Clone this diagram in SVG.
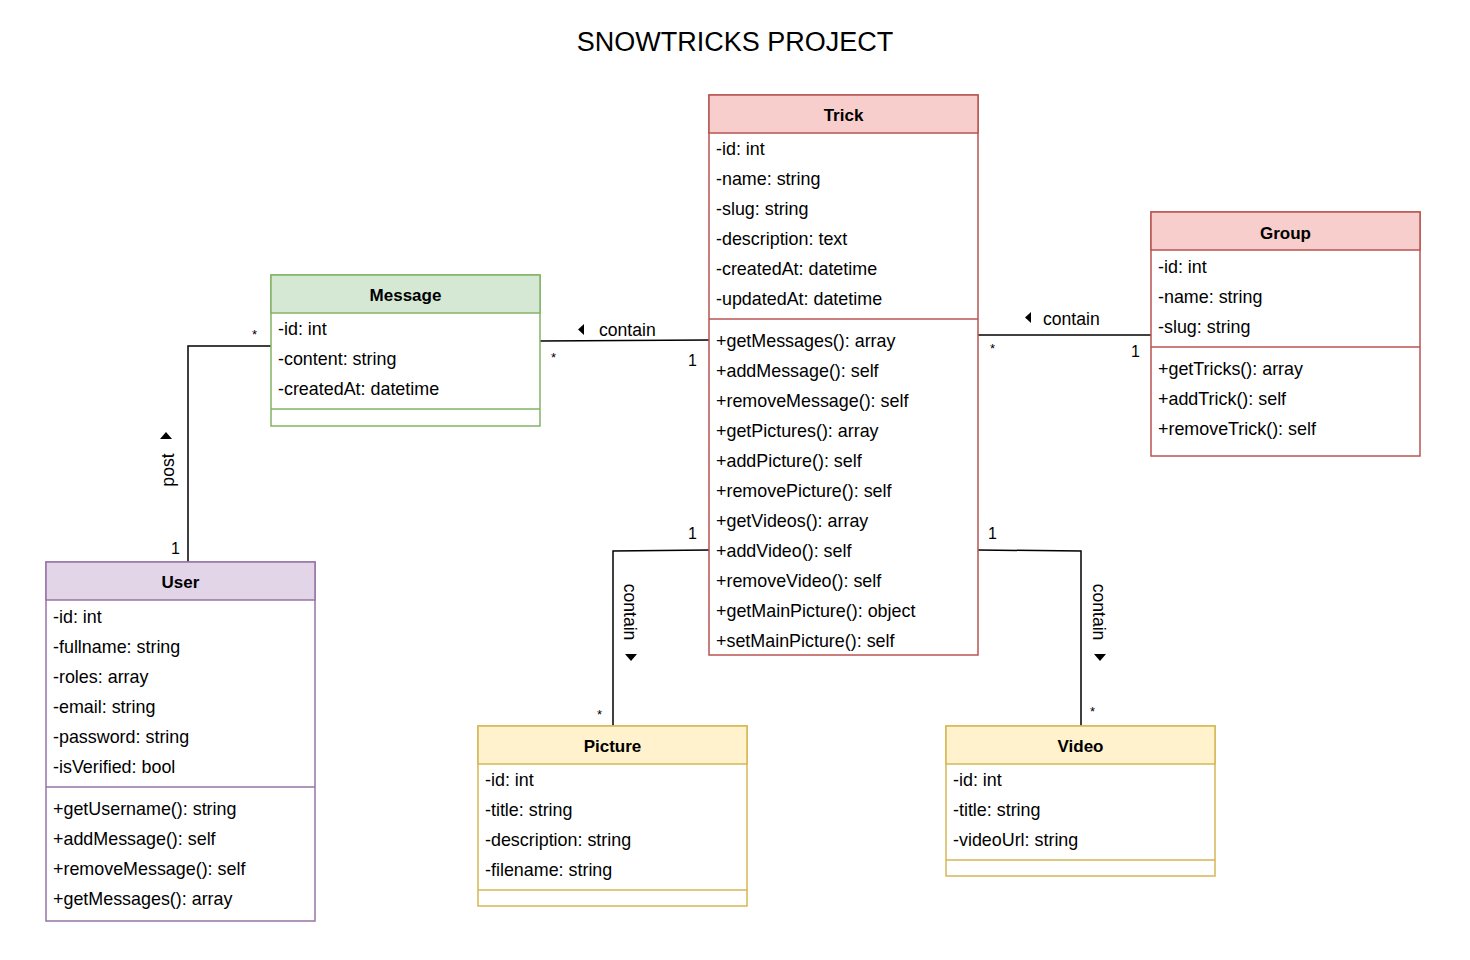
<svg xmlns="http://www.w3.org/2000/svg" width="1470" height="960" viewBox="0 0 1470 960">
<style>
text{font-family:"Liberation Sans",Arial,sans-serif;fill:#000}
.t{font-size:27px;text-anchor:middle}
.h{font-size:17px;font-weight:bold;text-anchor:middle}
.a{font-size:17.9px}
.l{font-size:17.6px}
.m{font-size:16px}
.s{font-size:13px}
.edge{fill:none;stroke:#000;stroke-width:1.5}
.red rect.hd{fill:#f8cecc;stroke:#b85450}
.red rect.bd,.red line{fill:#fff;stroke:#b85450}
.green rect.hd{fill:#d5e8d4;stroke:#82b366}
.green rect.bd,.green line{fill:#fff;stroke:#82b366}
.purple rect.hd{fill:#e1d5e7;stroke:#9673a6}
.purple rect.bd,.purple line{fill:#fff;stroke:#9673a6}
.yellow rect.hd{fill:#fff2cc;stroke:#d6b656}
.yellow rect.bd,.yellow line{fill:#fff;stroke:#d6b656}
rect,line{stroke-width:1.5}
</style>
<rect width="1470" height="960" fill="#fff"/>
<text class="t" x="735" y="51">SNOWTRICKS PROJECT</text>

<g id="connectors">
  <polyline class="edge" points="540,341 709,340"/>
  <polygon points="584,324 584,335 578,329.5" fill="#000"/>
  <text class="l" x="599" y="336">contain</text>
  <text class="s" x="551" y="362">*</text>
  <text class="m" x="688" y="366">1</text>

  <polyline class="edge" points="978,335 1151,335"/>
  <polygon points="1031,312 1031,323 1025,317.5" fill="#000"/>
  <text class="l" x="1043" y="325">contain</text>
  <text class="s" x="990" y="353">*</text>
  <text class="m" x="1131" y="357">1</text>

  <polyline class="edge" points="188,562 188,346 271,346"/>
  <polygon points="160,439 172,439 166,432" fill="#000"/>
  <text class="l" transform="translate(174,470) rotate(-90)" text-anchor="middle">post</text>
  <text class="s" x="252" y="339">*</text>
  <text class="m" x="171" y="554">1</text>

  <polyline class="edge" points="709,550 613,551 613,726"/>
  <polygon points="625,654 637,654 631,661" fill="#000"/>
  <text class="l" transform="translate(624,612) rotate(90)" text-anchor="middle">contain</text>
  <text class="m" x="688" y="539">1</text>
  <text class="s" x="597" y="719">*</text>

  <polyline class="edge" points="978,550 1081,551 1081,726"/>
  <polygon points="1094,654 1106,654 1100,661" fill="#000"/>
  <text class="l" transform="translate(1093,612) rotate(90)" text-anchor="middle">contain</text>
  <text class="m" x="988" y="539">1</text>
  <text class="s" x="1090" y="716">*</text>
</g>

<g id="trick" class="red">
  <rect class="bd" x="709" y="95" width="269" height="560"/>
  <rect class="hd" x="709" y="95" width="269" height="38"/>
  <line x1="709" y1="319" x2="978" y2="319"/>
  <text class="h" x="843.5" y="121">Trick</text>
  <text class="a" x="716" y="155">-id: int</text>
  <text class="a" x="716" y="185">-name: string</text>
  <text class="a" x="716" y="215">-slug: string</text>
  <text class="a" x="716" y="245">-description: text</text>
  <text class="a" x="716" y="275">-createdAt: datetime</text>
  <text class="a" x="716" y="305">-updatedAt: datetime</text>
  <text class="a" x="716" y="347">+getMessages(): array</text>
  <text class="a" x="716" y="377">+addMessage(): self</text>
  <text class="a" x="716" y="407">+removeMessage(): self</text>
  <text class="a" x="716" y="437">+getPictures(): array</text>
  <text class="a" x="716" y="467">+addPicture(): self</text>
  <text class="a" x="716" y="497">+removePicture(): self</text>
  <text class="a" x="716" y="527">+getVideos(): array</text>
  <text class="a" x="716" y="557">+addVideo(): self</text>
  <text class="a" x="716" y="587">+removeVideo(): self</text>
  <text class="a" x="716" y="617">+getMainPicture(): object</text>
  <text class="a" x="716" y="647">+setMainPicture(): self</text>
</g>

<g id="message" class="green">
  <rect class="bd" x="271" y="275" width="269" height="151"/>
  <rect class="hd" x="271" y="275" width="269" height="38"/>
  <line x1="271" y1="409" x2="540" y2="409"/>
  <text class="h" x="405.5" y="301">Message</text>
  <text class="a" x="278" y="335">-id: int</text>
  <text class="a" x="278" y="365">-content: string</text>
  <text class="a" x="278" y="395">-createdAt: datetime</text>
</g>

<g id="group" class="red">
  <rect class="bd" x="1151" y="212" width="269" height="244"/>
  <rect class="hd" x="1151" y="212" width="269" height="38"/>
  <line x1="1151" y1="347" x2="1420" y2="347"/>
  <text class="h" x="1285.5" y="239">Group</text>
  <text class="a" x="1158" y="273">-id: int</text>
  <text class="a" x="1158" y="303">-name: string</text>
  <text class="a" x="1158" y="333">-slug: string</text>
  <text class="a" x="1158" y="375">+getTricks(): array</text>
  <text class="a" x="1158" y="405">+addTrick(): self</text>
  <text class="a" x="1158" y="435">+removeTrick(): self</text>
</g>

<g id="user" class="purple">
  <rect class="bd" x="46" y="562" width="269" height="359"/>
  <rect class="hd" x="46" y="562" width="269" height="38"/>
  <line x1="46" y1="787" x2="315" y2="787"/>
  <text class="h" x="180.5" y="588">User</text>
  <text class="a" x="53" y="623">-id: int</text>
  <text class="a" x="53" y="653">-fullname: string</text>
  <text class="a" x="53" y="683">-roles: array</text>
  <text class="a" x="53" y="713">-email: string</text>
  <text class="a" x="53" y="743">-password: string</text>
  <text class="a" x="53" y="773">-isVerified: bool</text>
  <text class="a" x="53" y="815">+getUsername(): string</text>
  <text class="a" x="53" y="845">+addMessage(): self</text>
  <text class="a" x="53" y="875">+removeMessage(): self</text>
  <text class="a" x="53" y="905">+getMessages(): array</text>
</g>

<g id="picture" class="yellow">
  <rect class="bd" x="478" y="726" width="269" height="180"/>
  <rect class="hd" x="478" y="726" width="269" height="38"/>
  <line x1="478" y1="890" x2="747" y2="890"/>
  <text class="h" x="612.5" y="752">Picture</text>
  <text class="a" x="485" y="786">-id: int</text>
  <text class="a" x="485" y="816">-title: string</text>
  <text class="a" x="485" y="846">-description: string</text>
  <text class="a" x="485" y="876">-filename: string</text>
</g>

<g id="video" class="yellow">
  <rect class="bd" x="946" y="726" width="269" height="150"/>
  <rect class="hd" x="946" y="726" width="269" height="38"/>
  <line x1="946" y1="860" x2="1215" y2="860"/>
  <text class="h" x="1080.5" y="752">Video</text>
  <text class="a" x="953" y="786">-id: int</text>
  <text class="a" x="953" y="816">-title: string</text>
  <text class="a" x="953" y="846">-videoUrl: string</text>
</g>
</svg>
